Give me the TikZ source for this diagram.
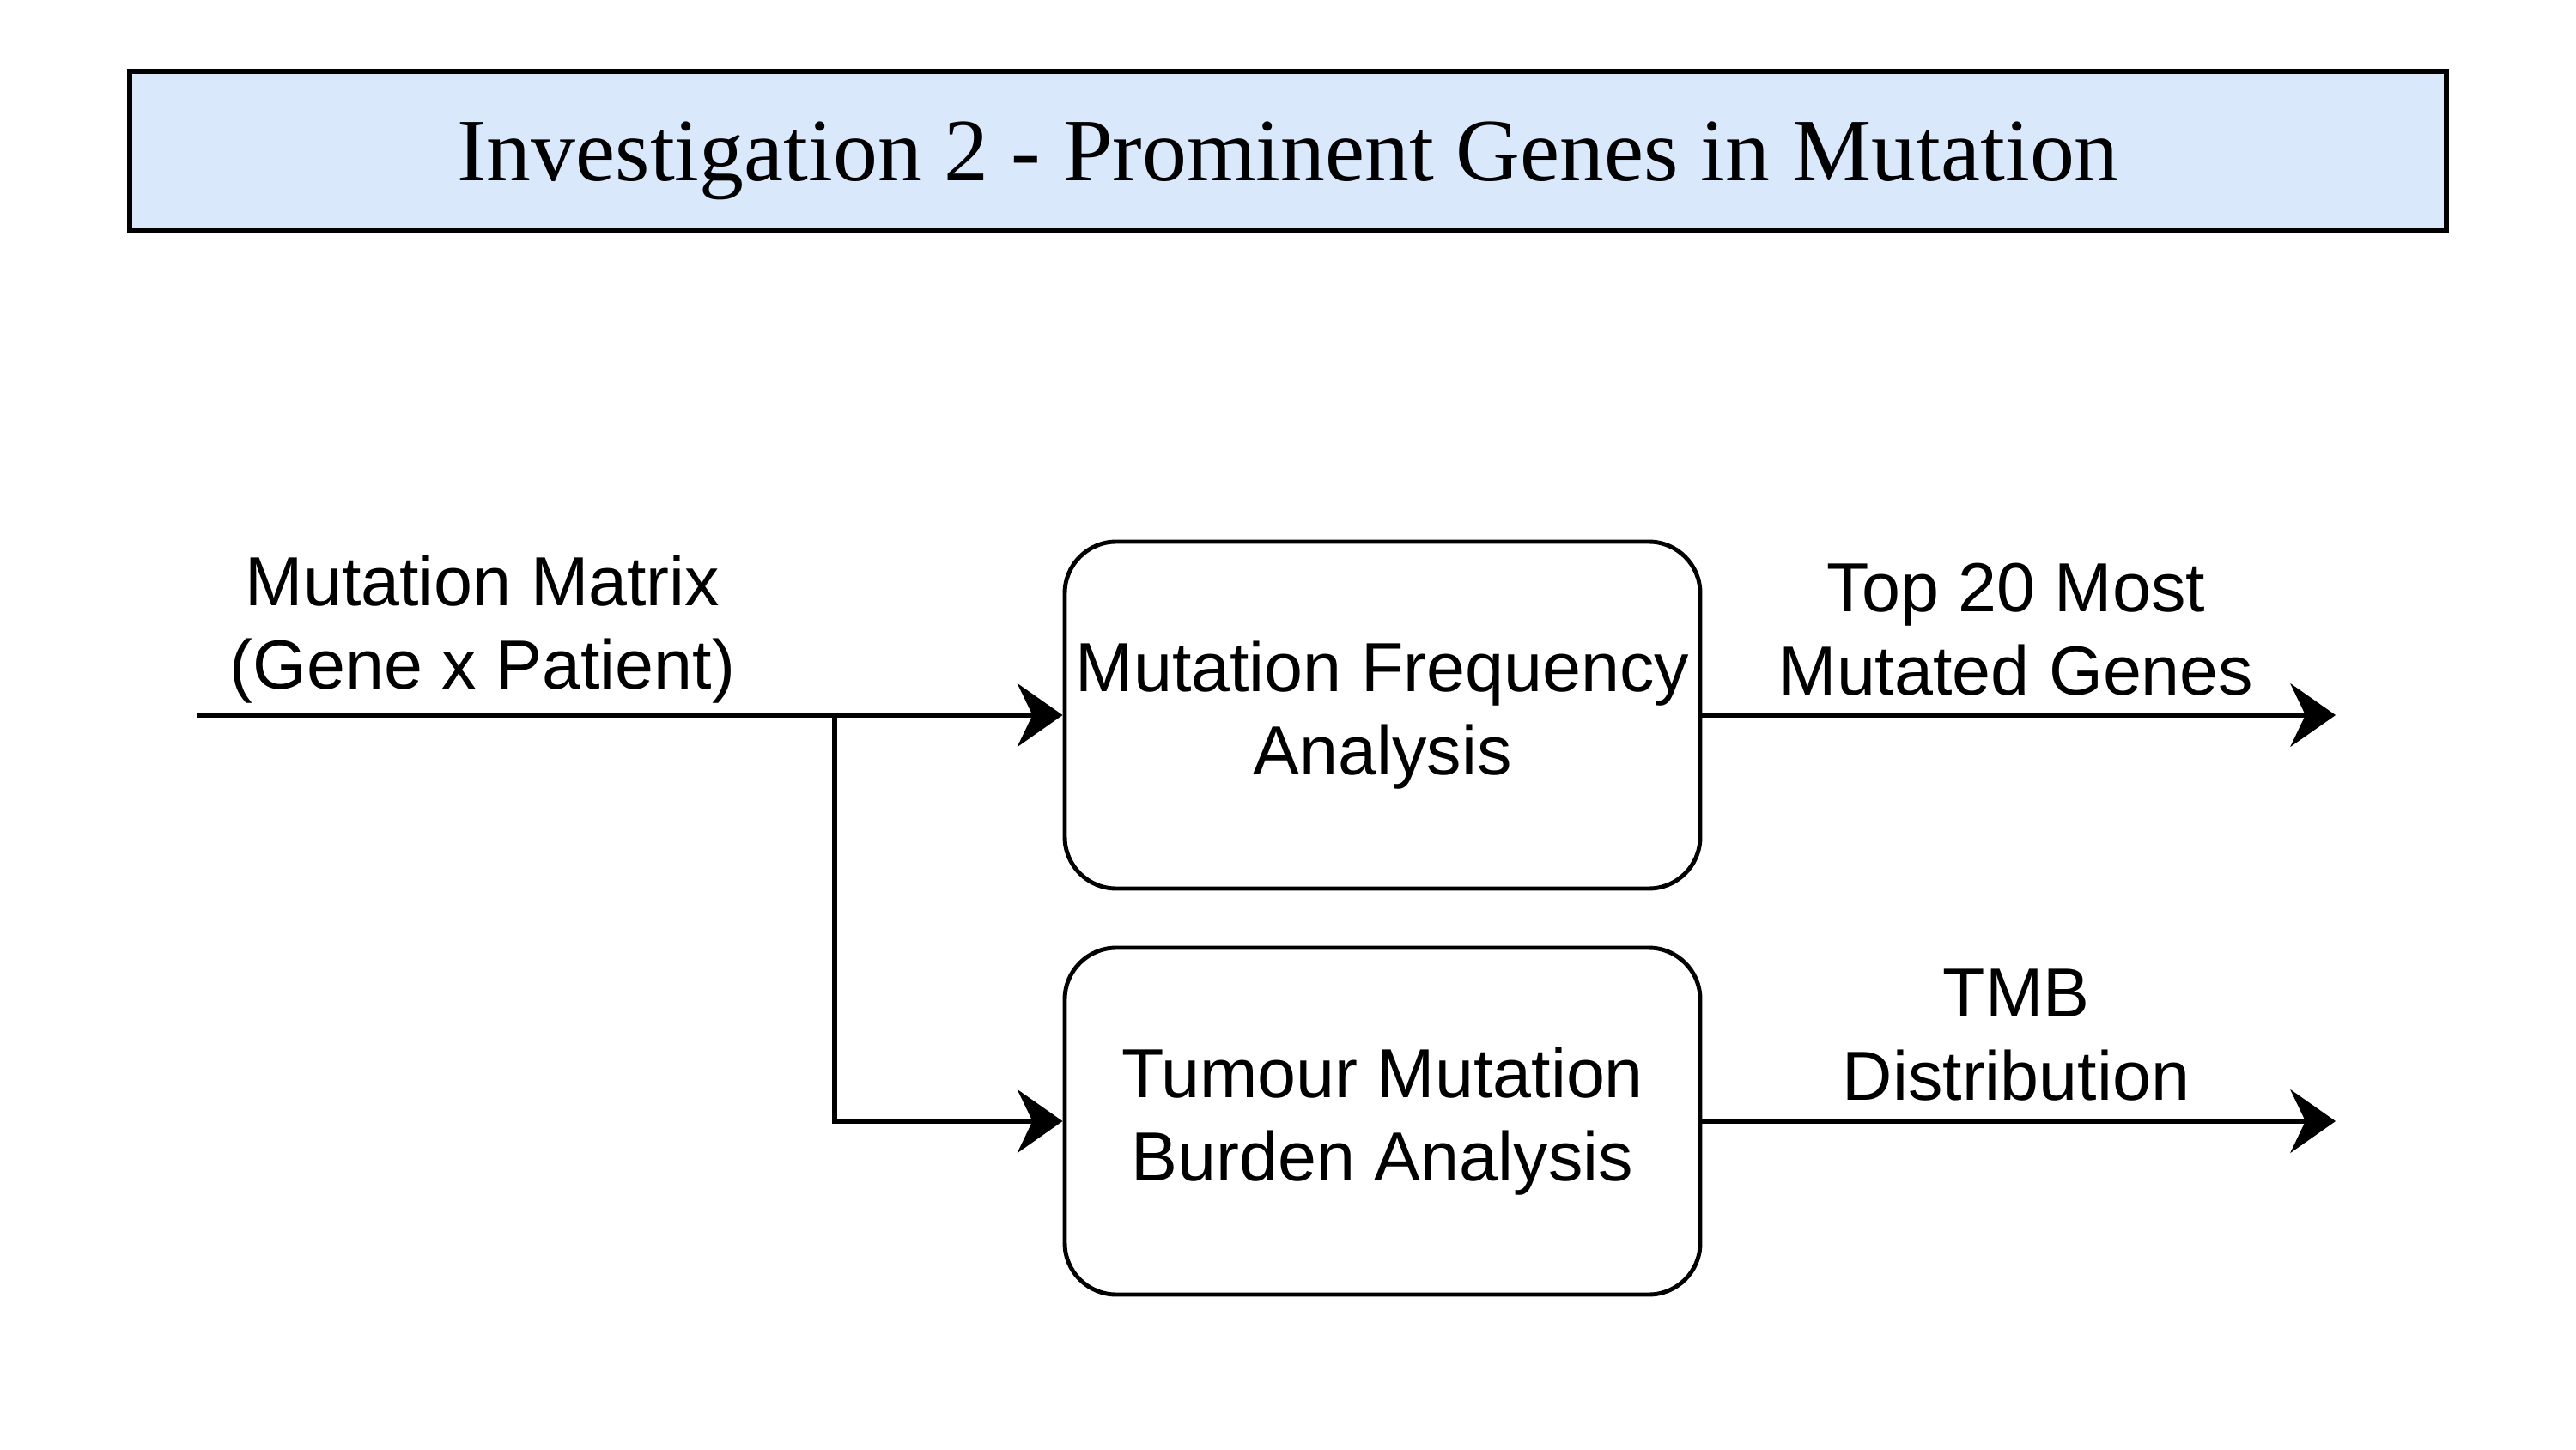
\documentclass[tikz,border=0pt]{standalone}
\usepackage{fontspec}
\setmainfont{Liberation Sans}
\newfontfamily\titlefont{Liberation Serif}
\usetikzlibrary{arrows.meta,positioning}
\definecolor{titleblue}{HTML}{DAE8FC}

\tikzset{
  TitleStyle/.style={draw, line width=1.8pt, fill=titleblue, minimum width=26.98cm, minimum height=1.85cm, text height=20pt, text depth=0pt, font=\titlefont\fontsize{29.5}{35}\selectfont},
  BoxStyle/.style={draw, line width=1.4pt, rounded corners=0.6cm, minimum width=7.40cm, minimum height=4.04cm, align=center, font=\fontsize{23}{27.6}\selectfont},
  LabelStyle/.style={align=center, font=\fontsize{23}{27.6}\selectfont},
  EdgeStyle/.style={-{Stealth[length=15pt,width=21pt,inset=5pt]}, line width=1.5pt}
}

\begin{document}
\begin{tikzpicture}
    \useasboundingbox (0,0) rectangle (30,16.88);

    \node[TitleStyle] (Title) at (15.0,15.125) {Investigation 2 - Prominent Genes in Mutation};

    \node[BoxStyle] (MF)  at (16.10,8.55) {Mutation Frequency\\Analysis};
    \node[BoxStyle] (TMB) at (16.10,3.82) {Tumour Mutation\\Burden Analysis};

    \coordinate (In)   at (2.30,8.55);
    \coordinate (Br)   at (9.72,8.55);
    \coordinate (OutA) at (27.20,8.55);
    \coordinate (OutB) at (27.20,3.82);

    \node[LabelStyle] (Matrix) at (5.62,9.55) {Mutation Matrix\\(Gene x Patient)};
    \node[LabelStyle] (Top)    at (23.48,9.55) {Top 20 Most\\Mutated Genes};
    \node[LabelStyle] (Dist)   at (23.48,4.82) {TMB\\Distribution};

    \draw[EdgeStyle] (In) -- (MF);
    \draw[EdgeStyle] (Br) |- (TMB);
    \draw[EdgeStyle] (MF) -- (OutA);
    \draw[EdgeStyle] (TMB) -- (OutB);
\end{tikzpicture}
\end{document}
